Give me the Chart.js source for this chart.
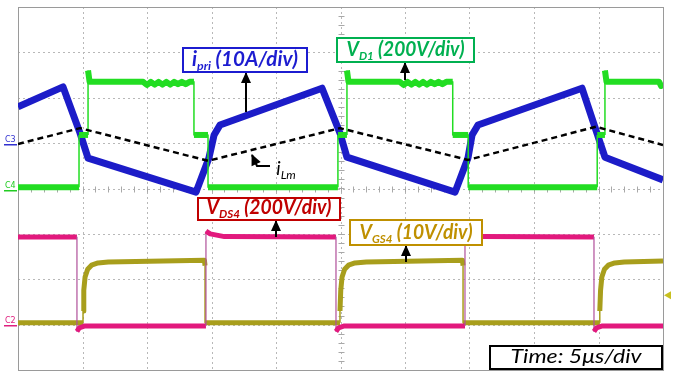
<!DOCTYPE html>
<html>
<head>
<meta charset="utf-8">
<script src="https://cdn.jsdelivr.net/npm/chart.js@4.4.1/dist/chart.umd.min.js"></script>
<style>
  html, body { margin: 0; padding: 0; background: #fff; }
  #wrap { width: 675px; height: 374px; position: relative; }
</style>
</head>
<body>
<div id="wrap"><canvas id="scope"></canvas></div>
<script>
// Time axis (us) and vertical divisions
const xDivs = [0, 5, 10, 15, 20, 25, 30, 35, 40, 45, 50];
const yDivs = [0, 1, 2, 3, 4, 5, 6, 7, 8];

// V_D1 (green)
const vd1T = [0, 4.73, 4.73, 5.43, 5.43, 5.55, 9.7, 10.0, 10.3, 10.6, 10.9, 11.2, 11.5, 11.8, 12.1, 12.4, 12.7, 13.0, 13.3, 13.64,
  13.64, 14.73, 14.73, 24.8, 24.8, 25.5, 25.5, 25.62, 29.6, 29.9, 30.2, 30.5, 30.8, 31.1, 31.4, 31.7, 32.0, 32.3, 32.6, 32.9, 33.2, 33.7,
  33.7, 34.9, 34.9, 44.9, 44.9, 45.5, 45.5, 45.62, 49.7, 49.85, 50];
const vd1V = [4.03, 4.03, 5.18, 5.18, 6.6, 6.35, 6.35, 6.28, 6.35, 6.29, 6.35, 6.29, 6.35, 6.29, 6.35, 6.3, 6.35, 6.3, 6.35, 6.35,
  5.18, 5.18, 4.03, 4.03, 5.18, 5.18, 6.6, 6.35, 6.35, 6.28, 6.35, 6.29, 6.35, 6.29, 6.35, 6.29, 6.35, 6.3, 6.35, 6.3, 6.35, 6.35,
  5.18, 5.18, 4.03, 4.03, 5.18, 5.18, 6.6, 6.35, 6.35, 6.26, 6.33];

// i_pri (blue)
const ipriT = [0, 3.49, 4.81, 5.43, 13.8, 14.8, 15.2, 15.66, 23.57, 24.96, 25.5, 33.88, 34.88, 35.2, 35.66, 43.72, 44.88, 45.5, 50];
const ipriV = [5.80, 6.24, 5.22, 4.67, 3.92, 4.67, 5.18, 5.40, 6.21, 5.22, 4.69, 3.92, 4.67, 5.18, 5.40, 6.21, 5.22, 4.69, 4.19];

// i_Lm (dashed)
const ilmT = [0, 4.81, 14.73, 24.96, 34.88, 44.8, 50];
const ilmV = [4.98, 5.33, 4.61, 5.33, 4.63, 5.36, 4.96];

// V_DS4 (magenta)
const vdsT = [0, 4.57, 4.57, 4.75, 5.2, 14.57, 14.57, 14.9, 16, 24.65, 24.65, 24.85, 25.3, 34.65, 34.65, 35.0, 36, 44.65, 44.65, 44.85, 45.3, 50];
const vdsV = [2.93, 2.93, 0.85, 0.93, 0.97, 0.97, 3.06, 3.0, 2.94, 2.93, 0.85, 0.93, 0.97, 0.97, 3.06, 3.0, 2.94, 2.93, 0.85, 0.93, 0.97, 0.97];

// V_GS4 (olive)
const vgsT = [0, 5.04, 5.04, 5.1, 5.2, 5.4, 5.7, 6.2, 7, 14.45, 14.5, 14.5, 24.96, 24.96, 25.02, 25.12, 25.32, 25.62, 26.12, 27, 34.45, 34.5,
  34.5, 45.1, 45.1, 45.16, 45.26, 45.46, 45.76, 46.26, 47, 50];
const vgsV = [1.04, 1.04, 1.3, 1.76, 2.05, 2.22, 2.31, 2.36, 2.38, 2.42, 2.3, 1.04, 1.04, 1.3, 1.76, 2.05, 2.22, 2.31, 2.36, 2.38, 2.42, 2.3,
  1.04, 1.04, 1.3, 1.76, 2.05, 2.22, 2.31, 2.36, 2.38, 2.4];

function pts(t, v) {
  return t.map((x, i) => ({ x: x, y: v[i] }));
}

// vertical edges are thin on the scope
function edgeWidth(thick, thin) {
  return ctx => ctx.p0.parsed.x === ctx.p1.parsed.x ? thin : thick;
}

const scopeGrid = {
  id: "scopeGrid",
  beforeDatasetsDraw(chart) {
    const { ctx, chartArea: a, scales: { x, y } } = chart;
    ctx.save();
    ctx.strokeStyle = "#b8b8b8";
    ctx.lineWidth = 1;
    ctx.setLineDash([2, 3]);
    xDivs.forEach(v => {
      const px = Math.round(x.getPixelForValue(v)) + 0.5;
      ctx.beginPath(); ctx.moveTo(px, a.top); ctx.lineTo(px, a.bottom); ctx.stroke();
    });
    yDivs.forEach(v => {
      const py = Math.round(y.getPixelForValue(v)) + 0.5;
      ctx.beginPath(); ctx.moveTo(a.left, py); ctx.lineTo(a.right, py); ctx.stroke();
    });
    ctx.setLineDash([]);
    // minor ticks on the centre lines
    ctx.strokeStyle = "#a8a8a8";
    const cy = Math.round(y.getPixelForValue(4)) + 0.5;
    for (let t = 0; t <= 50; t += 1) {
      const px = Math.round(x.getPixelForValue(t)) + 0.5;
      ctx.beginPath(); ctx.moveTo(px, cy - 3); ctx.lineTo(px, cy + 3); ctx.stroke();
    }
    const cx = Math.round(x.getPixelForValue(25)) + 0.5;
    for (let d = 0; d <= 8; d += 0.2) {
      const py = Math.round(y.getPixelForValue(d)) + 0.5;
      ctx.beginPath(); ctx.moveTo(cx - 3, py); ctx.lineTo(cx + 3, py); ctx.stroke();
    }
    ctx.strokeStyle = "#9a9a9a";
    ctx.strokeRect(Math.round(a.left) + 0.5, Math.round(a.top) + 0.5, Math.round(a.right - a.left), Math.round(a.bottom - a.top));
    ctx.restore();
  }
};

function arrow(ctx, pts) {
  ctx.save();
  ctx.strokeStyle = "#000";
  ctx.fillStyle = "#000";
  ctx.lineWidth = 2;
  ctx.beginPath();
  ctx.moveTo(pts[0][0], pts[0][1]);
  for (let i = 1; i < pts.length; i++) ctx.lineTo(pts[i][0], pts[i][1]);
  ctx.stroke();
  const [x1, y1] = pts[pts.length - 2];
  const [x2, y2] = pts[pts.length - 1];
  const ang = Math.atan2(y2 - y1, x2 - x1);
  ctx.translate(x2, y2);
  ctx.rotate(ang);
  ctx.beginPath();
  ctx.moveTo(1, 0); ctx.lineTo(-10, -5); ctx.lineTo(-10, 5); ctx.closePath();
  ctx.fill();
  ctx.restore();
}

// text made of parts: [text, isSub]
function richText(ctx, parts, x, yBase, size, color, weight, fitW) {
  const fam = "Lato, 'Open Sans', sans-serif";
  const fonts = p => (p[1] ? `italic ${weight} ${Math.round(size * 0.62)}px ${fam}` : `italic ${weight} ${size}px ${fam}`);
  let w = 0;
  parts.forEach(p => { ctx.font = fonts(p); w += ctx.measureText(p[0]).width; });
  let sx = 1;
  if (fitW) sx = fitW / w;
  ctx.save();
  ctx.translate(x - (w * sx) / 2, yBase);
  ctx.scale(sx, 1);
  ctx.fillStyle = color;
  ctx.textBaseline = "alphabetic";
  let cx = 0;
  parts.forEach(p => {
    ctx.font = fonts(p);
    ctx.fillText(p[0], cx, p[1] ? size * 0.22 : 0);
    cx += ctx.measureText(p[0]).width;
  });
  ctx.restore();
}

function tag(ctx, box, parts, color, fitW, weight) {
  const [x0, y0, x1, y1] = box;
  ctx.save();
  ctx.fillStyle = "#fff";
  ctx.fillRect(x0, y0, x1 - x0, y1 - y0);
  ctx.strokeStyle = color;
  ctx.lineWidth = 2;
  ctx.strokeRect(x0, y0, x1 - x0, y1 - y0);
  ctx.restore();
  richText(ctx, parts, (x0 + x1) / 2, y1 - 6, 20, color, weight || "bold", fitW);
}

const scopeNotes = {
  id: "scopeNotes",
  afterDatasetsDraw(chart) {
    const { ctx, scales: { y } } = chart;
    // channel markers
    ctx.save();
    ctx.font = "8px 'DejaVu Sans', sans-serif";
    const marks = [["C3", 4.98, "#3030d0"], ["C4", 3.96, "#22cc22"], ["C2", 0.99, "#e0207f"]];
    marks.forEach(m => {
      const py = Math.round(y.getPixelForValue(m[1]));
      ctx.fillStyle = m[2];
      ctx.fillText(m[0], 5, py - 2);
      ctx.fillRect(4, py, 13, 1.5);
    });
    const ty = y.getPixelForValue(1.65);
    ctx.fillStyle = "#c8c020";
    ctx.beginPath(); ctx.moveTo(664, ty); ctx.lineTo(671, ty - 4); ctx.lineTo(671, ty + 4); ctx.closePath(); ctx.fill();
    ctx.restore();

    arrow(ctx, [[246, 112], [246, 73]]);
    arrow(ctx, [[405, 80], [405, 63]]);
    arrow(ctx, [[276, 237], [276, 221]]);
    arrow(ctx, [[406, 262], [406, 246]]);
    arrow(ctx, [[270, 166], [257, 166], [252, 155]]);

    tag(ctx, [183, 48, 307, 72], [["i", 0], ["pri", 1], [" (10A/div)", 0]], "#1c1cd0", 106);
    tag(ctx, [337, 38, 474, 62], [["V", 0], ["D1", 1], [" (200V/div)", 0]], "#00b050", 118);
    tag(ctx, [198, 198, 340, 220], [["V", 0], ["DS4", 1], [" (200V/div)", 0]], "#c00000", 125);
    tag(ctx, [350, 220, 482, 245], [["V", 0], ["GS4", 1], [" (10V/div)", 0]], "#bf9000", 113);
    tag(ctx, [490, 346, 662, 369], [["Time: 5\u03bcs/div", 0]], "#000", 131, "normal");
    richText(ctx, [["i", 0], ["Lm", 1]], 286, 175, 19, "#000", "normal");
  }
};

new Chart(document.getElementById("scope"), {
  type: "line",
  data: {
    datasets: [
      { label: "iLm", data: pts(ilmT, ilmV), borderColor: "#000", borderWidth: 2.5, borderDash: [6, 4] },
      { label: "VD1", data: pts(vd1T, vd1V), borderColor: "#22dd22",
        segment: { borderWidth: edgeWidth(6, 1.5) } },
      { label: "ipri", data: pts(ipriT, ipriV), borderColor: "#1c1cc8", borderWidth: 7 },
      { label: "VDS4", data: pts(vdsT, vdsV), borderColor: "#e2197d",
        segment: { borderWidth: edgeWidth(5, 1.2), borderColor: c => c.p0.parsed.x === c.p1.parsed.x ? "#b0509a" : "#e2197d" } },
      { label: "VGS4", data: pts(vgsT, vgsV), borderColor: "#a89e1c",
        segment: { borderWidth: edgeWidth(5, 1.5) } }
    ]
  },
  options: {
    responsive: true,
    maintainAspectRatio: false,
    animation: false,
    devicePixelRatio: 1,
    layout: { padding: { left: 18, right: 12, top: 7, bottom: 4 } },
    elements: { point: { radius: 0 }, line: { tension: 0, borderJoinStyle: "round" } },
    plugins: { legend: { display: false }, tooltip: { enabled: false } },
    scales: {
      x: { type: "linear", min: 0, max: 50, display: false },
      y: { type: "linear", min: 0, max: 8, display: false }
    }
  },
  plugins: [scopeGrid, scopeNotes]
});
</script>
</body>
</html>
